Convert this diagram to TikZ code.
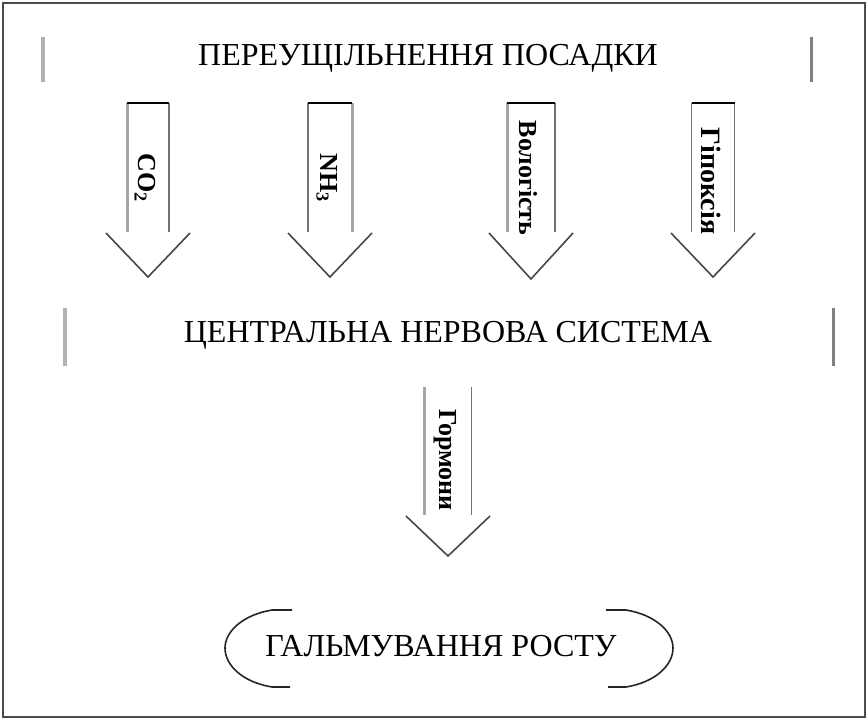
\documentclass[tikz,border=0pt]{standalone}
\usepackage{fontspec}
\setmainfont{Liberation Serif}

% block arrow: #1 centre x, #2 shaft half width, #3 shaft top, #4 shaft bottom,
% #5 apex y, #6 left side style, #7 right side style
\newcommand\blockarrow[7]{%
  \draw[#6] (#1-#2,#3) -- (#1-#2,#4);
  \draw[#7] (#1+#2,#3) -- (#1+#2,#4);
  \draw[chevron] (#1-42,#4+1) -- (#1,#5) -- (#1+42,#4+1);
}

\begin{document}
\begin{tikzpicture}[x=1pt,y=-1pt,
  heading/.style={font=\fontsize{32}{34}\selectfont, inner sep=0pt},
  tag/.style={font=\bfseries\fontsize{26}{28}\selectfont, rotate=-90, inner sep=0pt},
  lightbar/.style={draw=black!30, line width=4pt},
  darkbar/.style={draw=black!50, line width=3pt},
  shaftlight/.style={draw=black!35, line width=3pt},
  shaftdark/.style={draw=black!55, line width=1.8pt},
  shafttop/.style={draw=black, line width=2.2pt},
  chevron/.style={draw=black!72, line width=1.6pt},
  bracket/.style={draw=black!85, line width=1.6pt},
  frame/.style={draw=black!70, line width=1.2pt}]

\useasboundingbox (0,0) rectangle (868,720);
\draw[frame] (3,3) rectangle (865,717);

% top box
\node[heading] (crowd) at (428,58) {ПЕРЕУЩІЛЬНЕННЯ ПОСАДКИ};
\draw[lightbar] (43,37) -- (43,82);
\draw[darkbar] (811,37) -- (811,82);

% four factor arrows
\blockarrow{148}{21}{103}{232}{277}{shaftlight}{shaftdark}
\draw[shafttop] (127,103) -- (169,103);
\node[tag] (co) at (145,178) {CO\textsubscript{2}};

\blockarrow{330}{22}{103}{232}{277}{shaftdark}{shaftlight}
\draw[shafttop] (308,103) -- (352,103);
\node[tag] (nh) at (327,178) {NH\textsubscript{3}};

\blockarrow{531}{24}{103}{232}{279}{shaftlight}{shaftdark}
\draw[shafttop] (507,103) -- (555,103);
\node[tag] (hum) at (528,178) {Вологість};

\blockarrow{713}{21.5}{103}{232}{277}{shaftdark}{shaftdark}
\draw[shafttop] (692,103) -- (735,103);
\node[tag, font=\bfseries\fontsize{28}{30}\selectfont] (hyp) at (711,181) {Гіпоксія};

% central nervous system box
\node[heading] (cns) at (448,335) {ЦЕНТРАЛЬНА НЕРВОВА СИСТЕМА};
\draw[lightbar] (65,308) -- (65,366);
\draw[darkbar] (833,308) -- (833,366);

% arrow down to the result
\blockarrow{448}{23.5}{387}{515}{556}{shaftlight}{shaftdark}
\node[tag] (horm) at (445,460) {Гормони};

% result in round brackets
\node[heading] (growth) at (441,646) {ГАЛЬМУВАННЯ РОСТУ};
\draw[bracket] (292,610) -- (272,610) .. controls (242,615) and (225,632) .. (225,648)
  .. controls (225,665) and (242,682) .. (272,687) -- (290,687);
\draw[bracket] (606,610) -- (626,610) .. controls (656,615) and (673,632) .. (673,648)
  .. controls (673,665) and (656,682) .. (626,687) -- (608,687);
\end{tikzpicture}
\end{document}
